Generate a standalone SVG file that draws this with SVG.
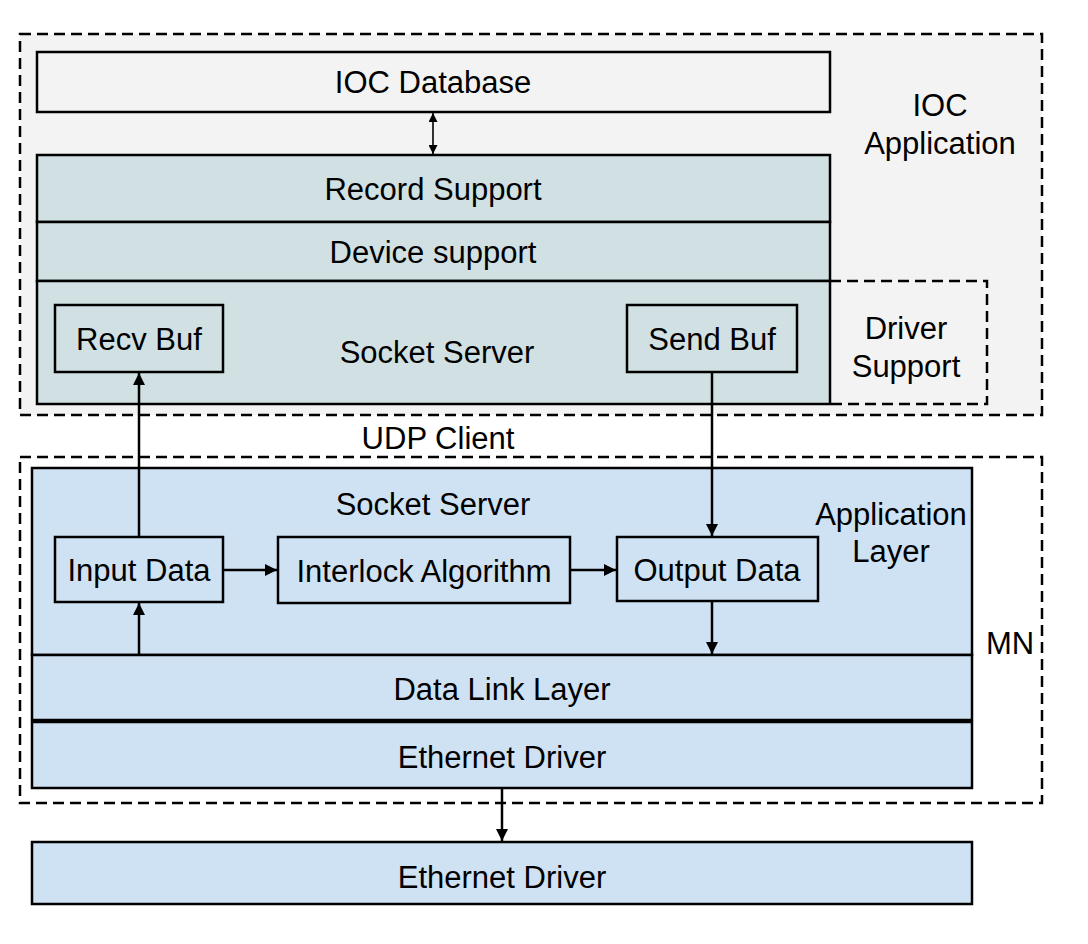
<svg xmlns="http://www.w3.org/2000/svg" width="1088" height="944" viewBox="0 0 1088 944">
<defs>
<style>
.t{font-family:"Liberation Sans",Arial,sans-serif;font-size:31px;fill:#000;text-anchor:middle}
.box{stroke:#000;stroke-width:2.5}
.dash{fill:none;stroke:#000;stroke-width:2.5;stroke-dasharray:11 6}
.ln{stroke:#000;stroke-width:2.5;fill:none}
.g{fill:#f3f3f3}
.c{fill:#d0e0e3}
.b{fill:#cfe2f3}
</style>
<marker id="ah" viewBox="0 0 10 10" refX="10" refY="5" markerWidth="12" markerHeight="12" markerUnits="userSpaceOnUse" orient="auto">
<path d="M0,0 L10,5 L0,10 z" fill="#000"/>
</marker>
<marker id="ahs" viewBox="0 0 10 10" refX="10" refY="5" markerWidth="9" markerHeight="9" markerUnits="userSpaceOnUse" orient="auto-start-reverse">
<path d="M0,0 L10,5 L0,10 z" fill="#000"/>
</marker>
</defs>
<rect width="1088" height="944" fill="#fff"/>

<g id="ioc-app">
<rect x="20" y="34" width="1022" height="381" class="g"/>
<rect x="20" y="34" width="1022" height="381" class="dash"/>
<text class="t" x="940" y="116">IOC</text>
<text class="t" x="940" y="154">Application</text>
</g>

<g id="ioc-db">
<rect x="37" y="52" width="793" height="60" class="box g"/>
<text class="t" x="433" y="93">IOC Database</text>
</g>

<g id="record-support">
<rect x="37" y="155" width="793" height="67" class="box c"/>
<text class="t" x="433" y="200">Record Support</text>
</g>
<g id="device-support">
<rect x="37" y="222" width="793" height="59" class="box c"/>
<text class="t" x="433" y="263">Device support</text>
</g>
<g id="socket-server-ioc">
<rect x="37" y="281" width="793" height="123" class="box c"/>
<text class="t" x="437" y="363">Socket Server</text>
</g>
<g id="recv-buf">
<rect x="55" y="305" width="168" height="67" class="box c"/>
<text class="t" x="139" y="350">Recv Buf</text>
</g>
<g id="send-buf">
<rect x="627" y="305" width="170" height="67" class="box c"/>
<text class="t" x="712" y="350">Send Buf</text>
</g>
<g id="driver-support">
<path d="M830,281 H987 V404 H830" class="dash"/>
<text class="t" x="906" y="339">Driver</text>
<text class="t" x="906" y="377">Support</text>
</g>

<g id="udp-client">
<text class="t" x="438" y="449">UDP Client</text>
</g>

<g id="mn">
<rect x="20" y="457" width="1022" height="346" class="dash"/>
<text class="t" x="1010" y="654">MN</text>
</g>

<g id="app-layer">
<rect x="32" y="468" width="940" height="187" class="box b"/>
<text class="t" x="433" y="515">Socket Server</text>
<text class="t" x="891" y="525">Application</text>
<text class="t" x="891" y="562">Layer</text>
</g>
<g id="input-data">
<rect x="55" y="537" width="168" height="65" class="box b"/>
<text class="t" x="139" y="581">Input Data</text>
</g>
<g id="interlock">
<rect x="278" y="537" width="292" height="66" class="box b"/>
<text class="t" x="424" y="582">Interlock Algorithm</text>
</g>
<g id="output-data">
<rect x="617" y="537" width="201" height="64" class="box b"/>
<text class="t" x="717" y="581">Output Data</text>
</g>
<g id="data-link">
<rect x="32" y="655" width="940" height="65" class="box b"/>
<text class="t" x="502" y="700">Data Link Layer</text>
</g>
<g id="eth-mn">
<rect x="32" y="722" width="940" height="66" class="box b"/>
<text class="t" x="502" y="768">Ethernet Driver</text>
</g>
<g id="eth-bottom">
<rect x="32" y="842" width="940" height="62" class="box b"/>
<text class="t" x="502" y="888">Ethernet Driver</text>
</g>

<g id="connectors">
<line x1="433" y1="113" x2="433" y2="154" stroke="#000" stroke-width="1.6" marker-start="url(#ahs)" marker-end="url(#ahs)"/>
<line x1="139" y1="537" x2="139" y2="373" class="ln" marker-end="url(#ah)"/>
<line x1="712" y1="372" x2="712" y2="536" class="ln" marker-end="url(#ah)"/>
<line x1="223" y1="570" x2="277" y2="570" class="ln" marker-end="url(#ah)"/>
<line x1="570" y1="570" x2="616" y2="570" class="ln" marker-end="url(#ah)"/>
<line x1="139" y1="655" x2="139" y2="603" class="ln" marker-end="url(#ah)"/>
<line x1="712" y1="601" x2="712" y2="654" class="ln" marker-end="url(#ah)"/>
<line x1="502" y1="788" x2="502" y2="841" class="ln" marker-end="url(#ah)"/>
</g>
</svg>
